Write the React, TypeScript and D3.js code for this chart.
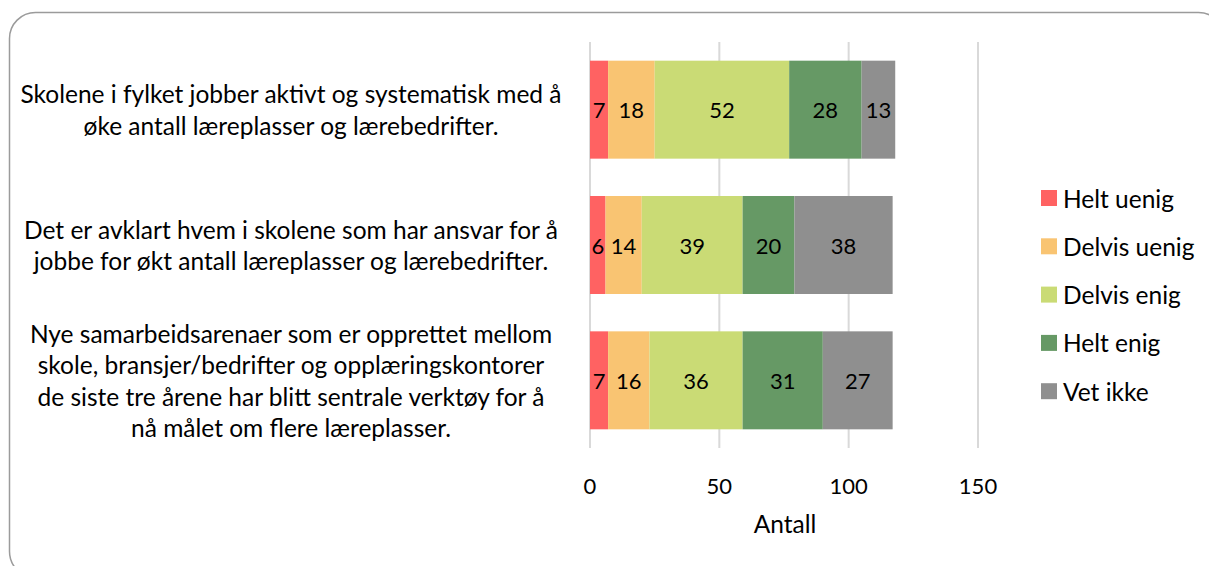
import React from "react";
import * as d3 from "d3";

const categories: string[][] = [
  ["Skolene i fylket jobber aktivt og systematisk med å", "øke antall læreplasser og lærebedrifter."],
  ["Det er avklart hvem i skolene som har ansvar for å", "jobbe for økt antall læreplasser og lærebedrifter."],
  [
    "Nye samarbeidsarenaer som er opprettet mellom",
    "skole, bransjer/bedrifter og opplæringskontorer",
    "de siste tre årene har blitt sentrale verktøy for å",
    "nå målet om flere læreplasser.",
  ],
];
const seriesNames = ["Helt uenig", "Delvis uenig", "Delvis enig", "Helt enig", "Vet ikke"];
const heltUenig = [7, 6, 7];
const delvisUenig = [18, 14, 16];
const delvisEnig = [52, 39, 36];
const heltEnig = [28, 20, 31];
const vetIkke = [13, 38, 27];
const xTicks = [0, 50, 100, 150];
const colors = ["#FF6262", "#F9C472", "#CADB75", "#669965", "#8F8F8F"];
const axisTitle = "Antall";

const W = 1209;
const H = 566;
const FONT = "Lato, 'Open Sans', sans-serif";
const TXT = 24.5;
const NUM = 22;

export default function App() {
  const values = [heltUenig, delvisUenig, delvisEnig, heltEnig, vetIkke];
  const x = d3.scaleLinear().domain([0, 150]).range([590, 978]);
  const y = d3
    .scaleBand<number>()
    .domain([0, 1, 2])
    .range([42, 448])
    .paddingInner(0.276)
    .paddingOuter(0.138);
  const stackData = categories.map((_, i) => {
    const o: any = { i };
    seriesNames.forEach((s, k) => (o[s] = values[k][i]));
    return o;
  });
  const stacked = d3.stack<any>().keys(seriesNames)(stackData);
  const lineH = 31.5;

  return (
    <svg width={W} height={H} style={{ position: "absolute", left: 0, top: 0 }} fontFamily={FONT}>
      <rect x={9.5} y={12.5} width={1215} height={565} rx={26} ry={26} fill="#fff" stroke="#9B9B9B" strokeWidth={1.5} />
      {xTicks.map((t) => (
        <line key={t} x1={x(t)} x2={x(t)} y1={42} y2={448} stroke="#D9D9D9" strokeWidth={2} />
      ))}
      {stacked.map((layer, k) =>
        layer.map((d, i) => {
          const bx = x(d[0]);
          const bw = x(d[1]) - x(d[0]);
          const by = y(i)!;
          const bh = y.bandwidth();
          return (
            <g key={`${k}-${i}`}>
              <rect x={bx} y={by} width={bw} height={bh} fill={colors[k]} />
              <text
                x={bx + bw / 2}
                y={by + bh / 2}
                textAnchor="middle"
                dominantBaseline="central"
                fontSize={NUM}
                fill="#000"
              >
                {values[k][i]}
              </text>
            </g>
          );
        })
      )}
      {categories.map((lines, i) => {
        const cy = y(i)! + y.bandwidth() / 2;
        const start = cy - ((lines.length - 1) * lineH) / 2;
        return (
          <text key={i} textAnchor="middle" fontSize={TXT} fill="#000">
            {lines.map((l, j) => (
              <tspan key={j} x={291} y={start + j * lineH} dominantBaseline="central">
                {l}
              </tspan>
            ))}
          </text>
        );
      })}
      {xTicks.map((t) => (
        <text key={t} x={x(t)} y={485} textAnchor="middle" dominantBaseline="central" fontSize={NUM} fill="#000">
          {t}
        </text>
      ))}
      <text x={785} y={523} textAnchor="middle" dominantBaseline="central" fontSize={TXT} fill="#000">
        {axisTitle}
      </text>
      {seriesNames.map((s, k) => (
        <g key={s} transform={`translate(1041, ${198 + k * 48.3})`}>
          <rect x={0} y={-8} width={16} height={16} fill={colors[k]} />
          <text x={22} y={0} dominantBaseline="central" fontSize={TXT} fill="#000">
            {s}
          </text>
        </g>
      ))}
    </svg>
  );
}
